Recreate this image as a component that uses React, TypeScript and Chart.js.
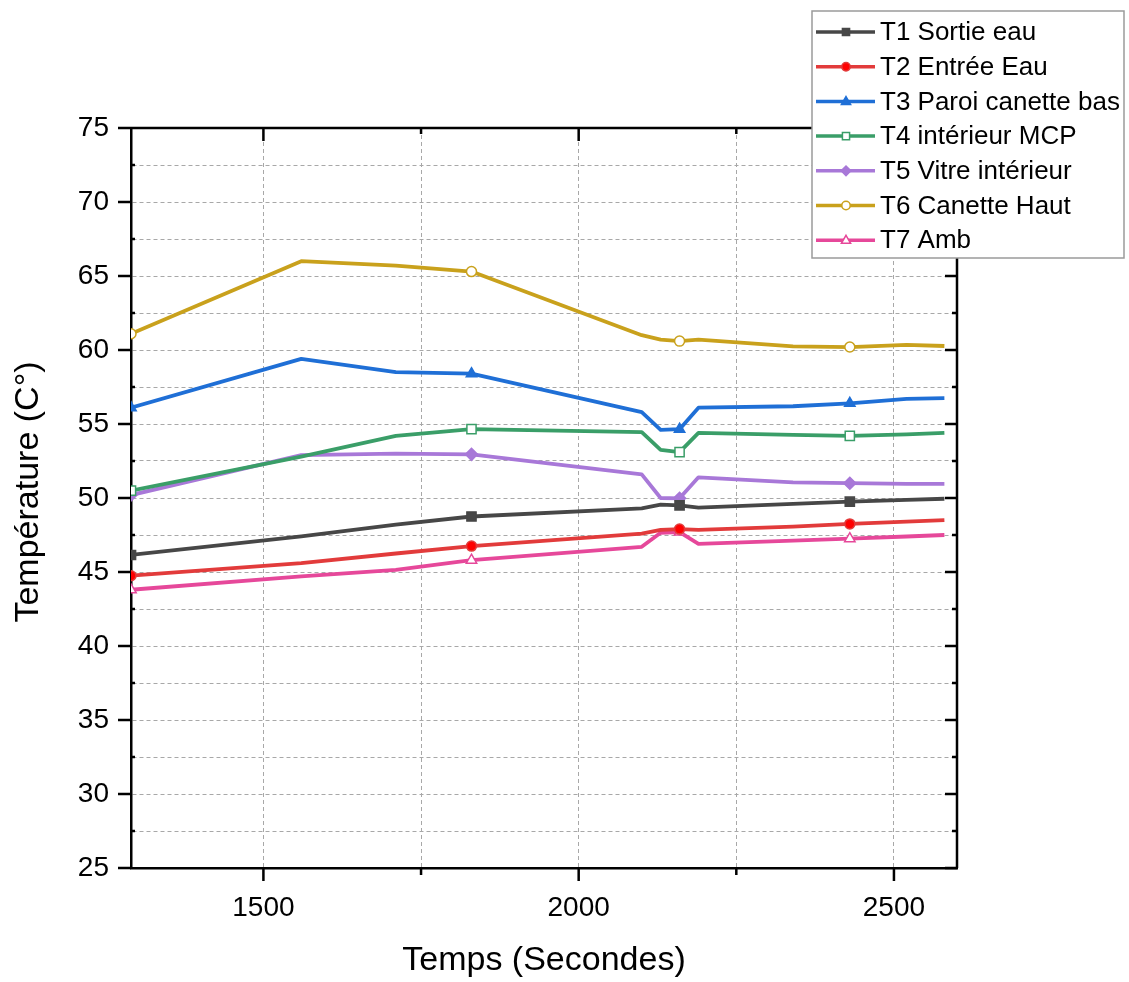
import React, { useEffect, useRef } from 'react';
import { Chart, registerables } from 'chart.js';

Chart.register(...registerables);

// ---- data ----
const timeS = [1290, 1560, 1710, 1830, 2100, 2130, 2160, 2190, 2340, 2430, 2520, 2580];
const markerTimes = [1290, 1830, 2160, 2430];
const seriesNames = [
  'T1 Sortie eau',
  'T2 Entrée Eau',
  'T3 Paroi canette bas',
  'T4 intérieur MCP',
  'T5 Vitre intérieur',
  'T6 Canette Haut',
  'T7 Amb',
];
const t1 = [46.15, 47.4, 48.2, 48.75, 49.3, 49.55, 49.5, 49.35, 49.6, 49.75, 49.87, 49.95];
const t2 = [44.75, 45.6, 46.25, 46.75, 47.6, 47.85, 47.9, 47.85, 48.07, 48.25, 48.4, 48.5];
const t3 = [56.1, 59.4, 58.5, 58.4, 55.8, 54.6, 54.65, 56.1, 56.2, 56.4, 56.7, 56.75];
const t4 = [50.5, 52.8, 54.2, 54.65, 54.45, 53.25, 53.1, 54.4, 54.26, 54.2, 54.3, 54.4];
const t5 = [50.2, 52.9, 53.0, 52.95, 51.6, 50.0, 49.98, 51.4, 51.06, 51.0, 50.95, 50.95];
const t6 = [61.1, 66.0, 65.7, 65.3, 61.0, 60.7, 60.6, 60.7, 60.25, 60.2, 60.35, 60.27];
const t7 = [43.8, 44.7, 45.15, 45.8, 46.7, 47.65, 47.7, 46.9, 47.12, 47.25, 47.4, 47.5];
const xMin = 1290;
const xMax = 2600;
const xTickValues = [1500, 1750, 2000, 2250, 2500];
const xLabelEvery = 500;
const yMin = 25;
const yMax = 75;
const yStep = 2.5;
const yLabelEvery = 5;
const xTitle = 'Temps (Secondes)';
const yTitle = 'Température (C°)';

const allSeries = [t1, t2, t3, t4, t5, t6, t7];

const styles = [
  { color: '#474747', point: 'rect', fill: '#474747', r: 6.5 },
  { color: '#e23b3b', point: 'circle', fill: '#ff0000', r: 5 },
  { color: '#1f6fd6', point: 'triangle', fill: '#1f6fd6', r: 6 },
  { color: '#3a9e68', point: 'rect', fill: '#ffffff', r: 6.5 },
  { color: '#a878d8', point: 'rectRot', fill: '#a878d8', r: 6 },
  { color: '#c9a11c', point: 'circle', fill: '#ffffff', r: 5 },
  { color: '#e6489a', point: 'triangle', fill: '#ffffff', r: 6 },
];

const FONT = "'Liberation Sans', Arial, sans-serif";

function drawMarker(ctx: CanvasRenderingContext2D, style: string, x: number, y: number, r: number, fill: string, stroke: string) {
  ctx.save();
  ctx.beginPath();
  if (style === 'circle') {
    ctx.arc(x, y, r, 0, Math.PI * 2);
  } else if (style === 'rect') {
    const s = r * 0.85;
    ctx.rect(x - s, y - s, 2 * s, 2 * s);
  } else if (style === 'rectRot') {
    ctx.moveTo(x, y - r * 1.15);
    ctx.lineTo(x + r * 1.15, y);
    ctx.lineTo(x, y + r * 1.15);
    ctx.lineTo(x - r * 1.15, y);
    ctx.closePath();
  } else if (style === 'triangle') {
    ctx.moveTo(x, y - r * 1.15);
    ctx.lineTo(x + r * 1.1, y + r * 0.75);
    ctx.lineTo(x - r * 1.1, y + r * 0.75);
    ctx.closePath();
  }
  ctx.fillStyle = fill;
  ctx.fill();
  ctx.lineWidth = 1.5;
  ctx.strokeStyle = stroke;
  ctx.stroke();
  ctx.restore();
}

const frameTicksPlugin = {
  id: 'frameTicks',
  afterDraw(chart: any) {
    const { ctx, chartArea } = chart;
    const { left, right, top, bottom } = chartArea;
    const xs = chart.scales.x;
    const ys = chart.scales.y;
    ctx.save();
    ctx.strokeStyle = '#000';
    ctx.lineWidth = 2.5;
    ctx.setLineDash([]);
    ctx.beginPath();
    ctx.moveTo(left, top);
    ctx.lineTo(right, top);
    ctx.lineTo(right, bottom);
    ctx.stroke();
    xs.ticks.forEach((t: any) => {
      const px = xs.getPixelForValue(t.value);
      const major = Math.abs(t.value % xLabelEvery) < 1e-6;
      ctx.beginPath();
      ctx.moveTo(px, bottom);
      ctx.lineTo(px, bottom + (major ? 13 : 7));
      ctx.moveTo(px, top);
      ctx.lineTo(px, top + (major ? 13 : 6));
      ctx.stroke();
    });
    ys.ticks.forEach((t: any) => {
      const py = ys.getPixelForValue(t.value);
      const major = Math.abs(t.value % yLabelEvery) < 1e-6;
      ctx.beginPath();
      if (major) {
        ctx.moveTo(left - 13, py);
        ctx.lineTo(left, py);
        ctx.moveTo(right - 12, py);
        ctx.lineTo(right, py);
      } else {
        ctx.moveTo(left, py);
        ctx.lineTo(left + 4, py);
        ctx.moveTo(right - 5, py);
        ctx.lineTo(right, py);
      }
      ctx.stroke();
    });
    // axis titles
    ctx.fillStyle = '#000';
    ctx.font = `34px ${FONT}`;
    ctx.textAlign = 'center';
    ctx.textBaseline = 'alphabetic';
    ctx.fillText(xTitle, (left + right) / 2, 970);
    ctx.save();
    ctx.translate(38, 492);
    ctx.rotate(-Math.PI / 2);
    ctx.font = `34px ${FONT}`;
    ctx.fillText(yTitle, 0, 0);
    ctx.restore();
    ctx.restore();
  },
};

const boxLegendPlugin = {
  id: 'boxLegend',
  afterDraw(chart: any) {
    const { ctx } = chart;
    const bx = 812, by = 11, bw = 312, bh = 247;
    ctx.save();
    ctx.fillStyle = '#ffffff';
    ctx.fillRect(bx, by, bw, bh);
    ctx.strokeStyle = '#9a9a9a';
    ctx.lineWidth = 1.5;
    ctx.strokeRect(bx, by, bw, bh);
    ctx.font = `26px ${FONT}`;
    ctx.textBaseline = 'middle';
    ctx.textAlign = 'left';
    chart.data.datasets.forEach((ds: any, i: number) => {
      const cy = 32 + i * 34.7;
      const st = styles[i];
      ctx.strokeStyle = st.color;
      ctx.lineWidth = 3.5;
      ctx.beginPath();
      ctx.moveTo(816, cy);
      ctx.lineTo(875, cy);
      ctx.stroke();
      drawMarker(ctx, st.point, 846, cy, 4.2, st.fill, st.color);
      ctx.fillStyle = '#000';
      ctx.fillText(ds.label, 880, cy + 1);
    });
    ctx.restore();
  },
};

export default function App() {
  const ref = useRef<HTMLCanvasElement | null>(null);

  useEffect(() => {
    if (!ref.current) return;
    Chart.defaults.font.family = FONT;
    Chart.defaults.color = '#000';
    const datasets = allSeries.map((vals, i) => ({
      label: seriesNames[i],
      data: timeS.map((t, j) => ({ x: t, y: vals[j] })),
      borderColor: styles[i].color,
      backgroundColor: styles[i].fill,
      pointBackgroundColor: styles[i].fill,
      pointBorderColor: styles[i].color,
      pointBorderWidth: 1.5,
      pointStyle: styles[i].point,
      pointRadius: (c: any) => (markerTimes.includes(timeS[c.dataIndex]) ? styles[i].r : 0),
      borderWidth: 3.8,
      borderJoinStyle: 'round',
      tension: 0,
      fill: false,
    }));
    const chart = new Chart(ref.current, {
      type: 'line',
      data: { datasets },
      options: {
        responsive: false,
        animation: false,
        devicePixelRatio: 1,
        layout: { padding: { left: 0, top: 128, right: 172, bottom: 0 } },
        plugins: { legend: { display: false }, tooltip: { enabled: false } },
        scales: {
          x: {
            type: 'linear',
            min: xMin,
            max: xMax,
            afterFit: (s: any) => { s.height = 114; },
            afterBuildTicks: (s: any) => { s.ticks = xTickValues.map((v) => ({ value: v })); },
            ticks: {
              padding: 23,
              font: { size: 28 },
              color: '#000',
              maxRotation: 0,
              autoSkip: false,
              callback: (v: any) => (Math.abs(Number(v) % xLabelEvery) < 1e-6 ? String(v) : ''),
            },
            grid: { color: '#a8a8a8', lineWidth: 1, drawTicks: false },
            border: { display: true, color: '#000', width: 2.5, dash: [4, 3] },
            title: { display: false },
          },
          y: {
            type: 'linear',
            min: yMin,
            max: yMax,
            afterFit: (s: any) => { s.width = 131; },
            ticks: {
              stepSize: yStep,
              padding: 22,
              font: { size: 28 },
              color: '#000',
              autoSkip: false,
              callback: (v: any) => (Math.abs(Number(v) % yLabelEvery) < 1e-6 ? String(v) : ''),
            },
            grid: { color: '#a8a8a8', lineWidth: 1, drawTicks: false },
            border: { display: true, color: '#000', width: 2.5, dash: [4, 3] },
            title: { display: false },
          },
        },
      },
      plugins: [frameTicksPlugin, boxLegendPlugin],
    } as any);
    return () => chart.destroy();
  }, []);

  return (
    <div style={{ position: 'absolute', left: 0, top: 0, width: 1129, height: 982, background: '#fff' }}>
      <canvas ref={ref} width={1129} height={982} style={{ display: 'block', width: 1129, height: 982 }} />
    </div>
  );
}
